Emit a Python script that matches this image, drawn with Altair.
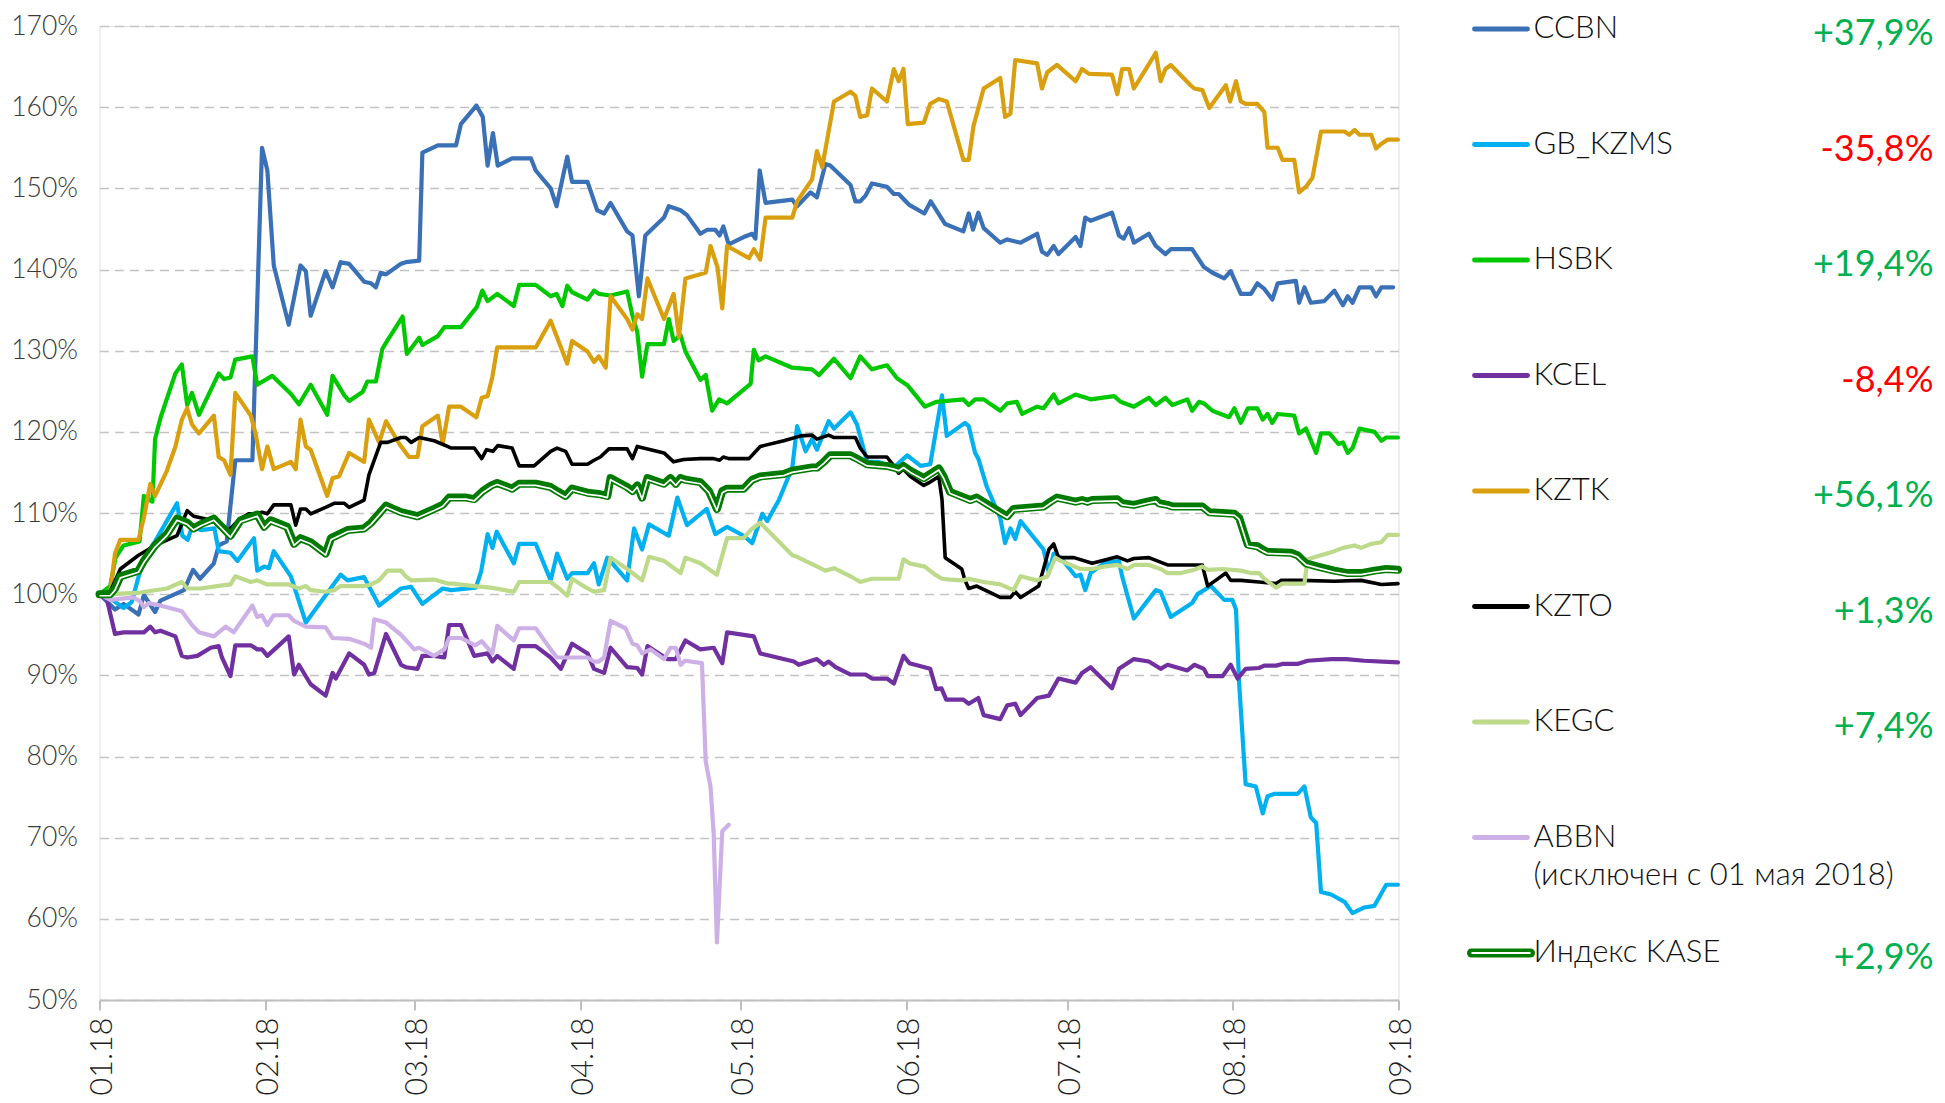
import altair as alt
import pandas as pd

# ---------------- data (day = days since 01.01.2018, value = % of 01.01.2018 level) ----------------
SERIES = ["CCBN", "GB_KZMS", "HSBK", "KCEL", "KZTK", "KZTO", "KEGC", "ABBN", "Индекс KASE"]
COLORS = ["#3A70B6", "#00B0F0", "#00C800", "#7030A0", "#DA9F0E", "#000000", "#BDD98A", "#CDB0E6", "#007A00"]
CHANGES = ["+37,9%", "-35,8%", "+19,4%", "-8,4%", "+56,1%", "+1,3%", "+7,4%", "", "+2,9%"]
CHANGE_COLORS = ["#00B050", "#FF0000", "#00B050", "#FF0000", "#00B050", "#00B050", "#00B050", "#00B050", "#00B050"]
NOTES = ["", "", "", "", "", "", "", "(исключен с 01 мая 2018)", ""]

MONTH_DAYS = [0, 31, 59, 90, 120, 151, 181, 212, 243]
MONTH_LABELS = ["01.18", "02.18", "03.18", "04.18", "05.18", "06.18", "07.18", "08.18", "09.18"]
Y_TICKS = [50, 60, 70, 80, 90, 100, 110, 120, 130, 140, 150, 160, 170]

CCBN = [(0, 100), (2.9, 98.1), (4.5, 98.8), (7.3, 97.5), (8.3, 99.9), (10.4, 97.8), (11.4, 99.2),
        (15.8, 100.5), (17.5, 103.0), (18.8, 101.9), (21.4, 103.8), (22.3, 106.0), (23.8, 106.5),
        (25.4, 116.5), (28.6, 116.5), (30.4, 155.0), (31.4, 152.2), (32.6, 140.5), (35.4, 133.2),
        (37.6, 140.5), (38.6, 139.8), (39.5, 134.3), (42.3, 139.8), (43.6, 137.8), (45.1, 140.9),
        (46.7, 140.7), (49.5, 138.5), (50.8, 138.3), (51.7, 137.8), (52.6, 139.6), (53.6, 139.4),
        (56.4, 140.7), (57.3, 140.9), (59.8, 141.1), (60.4, 154.4), (63.3, 155.3), (66.7, 155.3),
        (67.6, 157.9), (70.5, 160.2), (71.7, 158.8), (72.6, 152.8), (73.6, 156.8), (74.5, 152.8),
        (77.2, 153.7), (80.7, 153.7), (81.6, 152.2), (84.4, 150.0), (85.5, 147.8), (87.5, 153.9),
        (88.4, 150.8), (91.3, 150.8), (93.1, 147.3), (94.4, 146.9), (95.6, 148.2), (98.7, 144.7),
        (99.7, 144.2), (100.9, 136.7), (102.1, 144.2), (105.6, 146.4), (106.5, 147.8), (108.7, 147.3),
        (109.9, 146.7), (112.4, 144.4), (113.7, 144.9), (115.2, 144.9), (116.0, 144.2), (116.7, 145.3),
        (117.7, 143.1), (120.5, 144.0), (122.1, 144.4), (122.7, 143.8), (123.5, 152.2), (124.6, 148.2),
        (129.6, 148.6), (130.5, 147.8), (133.0, 149.5), (134.2, 148.9), (135.8, 153.0), (136.7, 152.8),
        (140.5, 150.4), (141.4, 148.4), (142.3, 148.4), (143.3, 149.1), (144.5, 150.6), (147.3, 150.2),
        (148.6, 149.3), (149.5, 149.3), (151.4, 148.0), (154.3, 146.9), (155.5, 148.4), (158.2, 145.6),
        (161.6, 144.7), (162.6, 146.9), (163.4, 144.9), (164.4, 147.0), (165.4, 145.1), (168.5, 143.3),
        (169.8, 143.7), (172.3, 143.3), (175.4, 144.4), (176.3, 142.2), (177.3, 141.8), (178.5, 142.9),
        (179.4, 141.9), (182.6, 144.0), (183.5, 142.9), (184.4, 146.4), (185.4, 146.0), (189.4, 147.0),
        (190.7, 144.2), (191.6, 143.8), (192.6, 145.1), (193.5, 143.3), (196.3, 144.4), (197.6, 142.9),
        (199.4, 141.9), (200.4, 142.5), (204.4, 142.5), (206.6, 140.3), (208.2, 139.6), (210.4, 138.9),
        (211.6, 139.8), (213.5, 137.0), (215.4, 137.0), (216.6, 138.3), (217.9, 137.6), (219.4, 136.3),
        (220.4, 138.3), (223.8, 138.6), (224.4, 135.9), (225.4, 137.8), (226.6, 135.9), (229.1, 136.1),
        (231.0, 137.4), (232.6, 135.6), (233.5, 136.7), (234.4, 135.9), (235.7, 137.8), (237.9, 137.8),
        (238.8, 136.7), (239.8, 137.8), (242.0, 137.8)]

GB_KZMS = [(0, 100), (2.6, 99.2), (4.5, 98.3), (6.0, 99.0), (8.3, 104.5), (10.4, 106.5), (14.5, 111.2),
           (15.5, 107.2), (16.5, 106.7), (17.3, 108.3), (19.0, 107.9), (21.5, 108.1), (22.3, 105.3),
           (24.5, 105.1), (25.8, 104.1), (28.9, 106.9), (29.5, 102.9), (30.8, 103.4), (31.7, 103.2),
           (32.6, 105.3), (35.8, 102.2), (38.6, 96.5), (45.1, 102.4), (46.4, 101.7), (49.5, 102.1),
           (52.3, 98.6), (56.4, 100.7), (58.3, 100.9), (60.4, 98.8), (64.2, 100.7), (65.8, 100.5),
           (70.4, 100.8), (71.4, 102.8), (72.6, 107.4), (73.5, 105.7), (74.3, 107.7), (77.5, 103.8),
           (78.5, 106.2), (81.6, 106.2), (84.4, 101.7), (85.6, 105.0), (87.5, 101.9), (88.4, 102.6),
           (91.3, 102.6), (92.5, 103.8), (93.4, 101.2), (95.0, 104.5), (98.7, 101.7), (100.0, 108.1),
           (101.5, 105.5), (102.8, 108.6), (106.5, 107.2), (108.1, 111.9), (109.9, 108.5), (113.6, 110.5),
           (115.2, 107.4), (117.4, 108.3), (120.5, 107.2), (122.1, 106.3), (124.0, 109.9), (124.9, 109.0),
           (127.1, 111.6), (129.6, 115.6), (130.5, 120.7), (132.1, 117.6), (133.3, 119.1), (134.2, 117.8),
           (136.4, 121.3), (137.4, 120.4), (140.5, 122.4), (141.7, 120.9), (143.6, 116.3), (145.8, 116.3),
           (148.6, 115.6), (151.1, 117.1), (153.6, 115.8), (155.4, 116.0), (157.6, 124.5), (158.5, 119.5),
           (161.9, 121.1), (162.6, 120.7), (163.8, 117.4), (164.4, 116.7), (166.0, 113.2), (168.5, 109.4),
           (169.4, 106.3), (170.4, 108.1), (171.3, 106.8), (172.3, 109.0), (176.6, 105.5), (177.6, 102.6),
           (178.5, 105.0), (179.8, 104.5), (182.6, 102.2), (183.5, 102.4), (184.4, 100.5), (185.4, 102.6),
           (187.9, 103.8), (190.7, 104.1), (191.3, 102.2), (192.3, 99.8), (193.5, 97.0), (197.6, 100.5),
           (198.5, 100.3), (200.4, 97.2), (204.4, 98.9), (205.4, 100.0), (207.9, 101.0), (210.4, 99.3),
           (211.9, 99.3), (212.6, 98.1), (213.2, 88.9), (214.4, 76.6), (216.3, 76.3), (217.6, 73.0),
           (218.5, 75.1), (219.8, 75.4), (224.1, 75.4), (225.4, 76.3), (226.6, 72.5), (227.6, 71.8),
           (228.5, 63.3), (230.4, 63.0), (232.9, 62.1), (234.4, 60.7), (236.6, 61.4), (238.5, 61.6),
           (240.7, 64.2), (242.9, 64.2)]

HSBK = [(0, 100), (2.0, 101.0), (3.0, 104.5), (4.5, 106.0), (7.5, 106.5), (8.3, 112.1), (9.9, 111.4),
        (10.4, 119.1), (11.4, 121.7), (14.2, 127.2), (15.4, 128.3), (16.4, 123.3), (17.3, 124.8),
        (18.6, 122.1), (22.3, 127.2), (23.3, 126.5), (24.5, 126.7), (25.4, 128.9), (28.6, 129.3),
        (29.5, 125.8), (32.3, 126.9), (35.8, 124.7), (37.3, 123.4), (39.5, 125.8), (42.6, 122.1),
        (43.6, 126.9), (45.8, 124.5), (46.7, 123.8), (49.2, 124.9), (50.1, 126.2), (51.7, 126.2),
        (52.9, 130.2), (53.9, 131.3), (56.7, 134.2), (57.5, 129.6), (59.8, 131.6), (60.4, 130.7),
        (63.3, 131.8), (64.5, 132.9), (67.6, 132.9), (70.6, 135.4), (71.6, 137.4), (72.6, 136.1),
        (74.4, 137.0), (77.5, 135.5), (78.5, 138.1), (81.6, 138.1), (84.4, 136.7), (85.5, 137.0),
        (86.6, 135.5), (87.5, 138.0), (88.4, 137.2), (91.3, 136.3), (92.5, 137.4), (93.4, 137.0),
        (95.6, 136.8), (98.7, 137.3), (99.7, 134.3), (100.6, 132.3), (101.5, 126.8), (102.5, 130.8),
        (105.6, 130.8), (106.5, 133.9), (107.4, 131.2), (108.7, 131.9), (109.6, 129.9), (112.4, 126.4),
        (113.4, 127.0), (114.6, 122.6), (115.9, 124.0), (117.4, 123.5), (121.8, 125.9), (122.4, 130.1),
        (123.3, 128.8), (124.6, 129.3), (129.6, 127.9), (133.3, 127.7), (134.6, 127.0), (137.4, 129.0),
        (140.5, 126.6), (142.3, 129.3), (144.5, 127.7), (147.3, 128.2), (149.2, 126.6), (151.2, 125.7),
        (154.4, 123.1), (156.6, 123.7), (161.6, 124.0), (162.6, 123.3), (163.8, 124.0), (165.4, 124.0),
        (168.5, 122.6), (169.8, 123.5), (171.6, 123.7), (172.6, 122.2), (175.4, 123.1), (176.6, 122.9),
        (178.5, 124.6), (179.4, 123.5), (182.6, 124.6), (185.4, 124.0), (189.8, 124.4), (191.0, 123.7),
        (193.5, 123.1), (196.3, 124.2), (197.6, 123.3), (199.4, 124.2), (200.7, 123.3), (203.5, 124.0),
        (204.4, 122.6), (205.7, 123.7), (206.6, 123.5), (208.2, 122.6), (211.3, 121.8), (212.3, 122.9),
        (213.5, 121.1), (214.8, 122.9), (216.6, 122.9), (217.6, 121.5), (218.5, 122.2), (219.4, 121.1),
        (220.4, 122.2), (223.5, 122.0), (224.4, 119.8), (225.7, 120.4), (227.6, 117.4), (228.5, 119.8),
        (230.1, 119.8), (231.8, 118.5), (232.6, 118.7), (233.5, 117.4), (234.4, 118.0), (235.7, 120.4),
        (238.5, 120.0), (239.8, 118.9), (240.7, 119.3), (242.9, 119.3)]

KCEL = [(0, 100), (1.4, 99.3), (2.9, 95.1), (4.5, 95.3), (8.3, 95.3), (9.5, 96.0), (10.4, 95.3),
        (11.4, 95.5), (14.2, 94.8), (15.4, 92.4), (16.4, 92.2), (18.3, 92.4), (20.8, 93.4), (22.3, 93.6),
        (22.9, 92.2), (24.5, 89.9), (25.4, 93.7), (28.3, 93.7), (29.5, 93.2), (30.4, 93.2), (31.4, 92.4),
        (35.4, 94.8), (36.4, 90.1), (37.3, 91.3), (39.5, 88.9), (42.3, 87.5), (43.6, 90.3), (44.2, 89.6),
        (46.7, 92.7), (49.5, 91.3), (50.4, 90.1), (51.4, 90.3), (53.6, 95.1), (56.4, 91.3), (57.3, 91.0),
        (59.5, 90.8), (60.4, 92.4), (62.6, 92.4), (64.5, 92.2), (65.4, 96.2), (67.6, 96.2), (70.1, 92.4),
        (72.6, 92.7), (73.5, 91.7), (74.4, 92.4), (77.5, 90.8), (78.5, 93.6), (81.6, 93.6), (84.4, 92.2),
        (86.3, 90.8), (88.4, 93.9), (91.3, 92.7), (92.5, 90.8), (94.4, 90.3), (95.6, 93.4), (98.7, 91.0),
        (100.6, 90.9), (101.5, 90.1), (102.5, 93.6), (106.2, 92.0), (107.8, 92.0), (109.6, 94.3),
        (112.4, 93.2), (114.9, 93.4), (116.5, 91.5), (117.4, 95.3), (122.4, 94.8), (123.6, 92.7),
        (129.9, 91.7), (130.8, 91.3), (134.2, 92.0), (135.5, 91.3), (136.4, 91.7), (137.7, 91.0),
        (140.5, 90.1), (143.3, 90.1), (144.5, 89.6), (147.3, 89.6), (148.6, 89.0), (150.4, 92.4),
        (151.5, 91.5), (155.4, 90.8), (156.5, 88.3), (157.5, 88.4), (158.4, 87.0), (161.6, 87.0),
        (162.6, 86.5), (164.4, 87.2), (165.4, 85.1), (168.5, 84.6), (169.8, 86.3), (171.3, 86.5),
        (172.3, 85.1), (175.4, 87.2), (177.6, 87.5), (179.4, 89.6), (182.6, 89.1), (183.8, 90.3),
        (185.4, 91.0), (189.4, 88.4), (190.7, 90.8), (193.5, 92.0), (196.3, 91.7), (198.5, 90.8),
        (199.8, 91.3), (203.5, 90.6), (204.8, 91.3), (206.6, 90.8), (207.3, 89.9), (210.1, 89.9),
        (211.6, 91.3), (212.9, 89.6), (214.4, 90.8), (216.9, 90.9), (217.9, 91.2), (220.1, 91.2),
        (221.3, 91.4), (224.1, 91.4), (226.0, 91.8), (230.4, 92.0), (233.2, 92.0), (236.6, 91.8),
        (242.9, 91.6)]

KZTK = [(0, 100), (2.0, 100.3), (2.9, 105.0), (3.9, 106.7), (7.3, 106.7), (8.3, 109.4), (9.5, 113.6),
        (10.4, 112.1), (12.6, 115.2), (14.2, 118.2), (15.4, 121.5), (16.4, 122.9), (17.3, 120.9),
        (18.6, 119.8), (21.4, 122.0), (22.3, 116.9), (23.3, 116.5), (24.5, 114.7), (25.4, 124.8),
        (28.3, 122.0), (29.2, 119.8), (30.4, 115.4), (31.4, 118.2), (32.6, 115.4), (35.8, 116.3),
        (36.7, 115.4), (37.6, 121.5), (38.6, 118.2), (39.5, 117.8), (42.6, 112.1), (43.6, 114.3),
        (44.8, 114.5), (46.7, 117.4), (49.5, 116.3), (50.4, 121.5), (52.3, 118.7), (53.6, 121.3),
        (56.1, 118.5), (57.9, 116.9), (59.5, 116.9), (60.4, 120.7), (63.3, 122.0), (64.2, 118.5),
        (65.4, 123.1), (67.6, 123.1), (70.5, 121.8), (71.5, 124.2), (72.6, 124.4), (73.5, 126.8),
        (74.4, 130.4), (81.6, 130.4), (84.4, 133.7), (87.5, 128.4), (88.4, 131.2), (91.3, 129.9),
        (92.5, 128.6), (93.4, 129.3), (94.7, 127.9), (95.6, 136.7), (98.7, 133.9), (99.7, 132.6),
        (100.6, 134.5), (101.5, 133.9), (102.5, 138.9), (105.6, 133.9), (107.4, 137.0), (108.4, 131.7),
        (109.6, 138.9), (113.4, 139.6), (114.3, 142.9), (115.6, 140.3), (116.5, 135.2), (117.4, 142.9),
        (121.5, 141.4), (122.4, 142.5), (123.6, 141.2), (124.6, 146.4), (129.6, 146.4), (130.5, 148.4),
        (133.3, 151.1), (134.2, 154.6), (135.2, 152.6), (137.4, 160.7), (140.5, 161.9), (141.4, 161.4),
        (142.3, 158.8), (143.6, 159.0), (144.5, 162.3), (147.3, 160.7), (148.6, 164.7), (149.5, 163.2),
        (150.4, 164.7), (151.2, 157.9), (154.2, 158.1), (155.4, 160.4), (157.0, 161.0), (158.5, 160.7),
        (161.6, 153.5), (162.6, 153.5), (163.5, 157.7), (165.4, 162.3), (168.5, 163.6), (169.4, 158.8),
        (170.4, 159.2), (171.3, 165.8), (175.4, 165.4), (176.3, 162.3), (177.3, 164.3), (179.1, 165.2),
        (182.6, 163.2), (183.8, 164.7), (185.1, 164.1), (189.4, 164.0), (190.4, 161.6), (191.3, 164.7),
        (192.6, 164.7), (193.5, 162.3), (197.6, 166.7), (198.5, 163.2), (199.4, 164.7), (200.4, 165.2),
        (204.1, 162.7), (204.8, 162.3), (206.3, 162.1), (207.6, 159.9), (210.7, 162.7), (211.5, 160.7),
        (212.6, 163.2), (213.5, 160.7), (214.4, 160.4), (216.6, 160.4), (217.9, 159.4), (218.5, 155.0),
        (220.4, 155.0), (221.3, 153.5), (223.5, 153.5), (224.4, 149.5), (225.7, 150.2), (226.9, 151.3),
        (228.5, 157.0), (232.9, 157.0), (233.8, 156.6), (234.8, 157.2), (235.7, 156.6), (237.9, 156.6),
        (238.8, 154.9), (239.8, 155.5), (241.0, 156.0), (242.9, 156.0)]

KZTO = [(0, 100), (2.0, 100.3), (3.9, 103.1), (7.3, 104.8), (10.4, 106.0), (14.5, 107.2), (16.4, 110.3),
        (17.6, 109.6), (18.9, 109.4), (21.4, 109.0), (22.3, 108.3), (23.9, 107.7), (25.1, 108.5),
        (26.1, 109.2), (27.9, 109.9), (29.5, 109.9), (30.4, 110.1), (31.4, 109.9), (32.6, 111.0),
        (35.8, 111.0), (36.7, 108.5), (37.6, 110.5), (38.6, 110.5), (39.5, 109.9), (42.3, 110.7),
        (43.9, 111.2), (45.8, 111.2), (46.7, 110.7), (49.5, 111.6), (50.4, 114.7), (52.6, 118.7),
        (53.9, 118.7), (56.4, 119.3), (57.3, 119.3), (58.3, 118.7), (59.8, 119.3), (62.6, 118.9),
        (65.1, 118.2), (65.8, 118.0), (70.1, 118.0), (71.5, 116.7), (72.4, 117.8), (73.6, 117.6),
        (74.5, 118.3), (77.2, 118.0), (78.5, 115.8), (81.3, 115.8), (84.4, 117.6), (85.6, 118.0),
        (87.2, 117.6), (88.4, 116.0), (91.3, 116.0), (92.5, 116.5), (93.7, 116.9), (95.3, 117.9),
        (98.7, 117.9), (99.7, 116.7), (100.6, 118.2), (103.1, 117.8), (105.6, 117.4), (107.4, 116.3),
        (109.3, 116.6), (112.4, 116.7), (114.9, 116.7), (116.0, 116.5), (116.7, 116.9), (117.7, 116.7),
        (121.5, 116.7), (123.6, 118.2), (128.0, 118.9), (131.2, 119.5), (133.3, 119.6), (134.2, 119.1),
        (136.4, 119.6), (137.4, 119.3), (141.4, 119.3), (142.3, 118.0), (143.6, 116.9), (147.3, 116.9),
        (148.6, 115.8), (149.5, 114.9), (150.4, 115.4), (151.7, 114.5), (154.2, 113.4), (155.1, 113.7),
        (157.0, 114.5), (157.6, 111.7), (158.2, 104.5), (161.3, 103.1), (161.9, 101.7), (162.6, 100.7),
        (164.1, 101.0), (168.5, 99.6), (170.4, 99.6), (171.3, 100.3), (172.3, 99.6), (175.7, 101.0),
        (177.6, 105.5), (178.5, 106.2), (179.4, 104.5), (182.3, 104.5), (185.7, 103.8), (190.4, 104.6),
        (192.3, 104.1), (193.5, 104.4), (196.3, 104.5), (199.8, 103.6), (206.3, 103.6), (207.3, 101.0),
        (208.8, 101.7), (210.7, 102.6), (211.6, 101.7), (213.5, 101.7), (216.9, 101.5), (220.1, 101.3),
        (221.0, 101.7), (224.8, 101.7), (231.0, 101.6), (236.0, 101.7), (239.8, 101.2), (242.9, 101.3)]

KEGC = [(0, 100), (2.0, 100.0), (7.6, 100.2), (12.6, 100.7), (15.4, 101.5), (16.4, 100.7), (18.9, 100.7),
        (22.0, 101.0), (24.5, 101.2), (25.4, 102.2), (28.3, 101.5), (29.5, 101.7), (31.4, 101.2),
        (35.4, 101.2), (37.3, 100.7), (38.6, 101.0), (39.5, 100.5), (42.3, 100.3), (43.9, 100.5),
        (45.1, 101.0), (49.5, 101.0), (50.8, 101.2), (52.3, 101.7), (53.9, 102.9), (56.4, 102.9),
        (57.3, 102.2), (58.3, 101.7), (62.6, 101.8), (65.1, 101.3), (66.1, 101.3), (70.1, 101.0),
        (73.2, 100.8), (77.5, 100.3), (78.5, 101.5), (84.4, 101.5), (86.0, 100.7), (87.5, 99.8),
        (88.4, 101.9), (91.3, 100.7), (92.5, 100.3), (94.4, 100.5), (95.6, 104.5), (98.7, 103.1),
        (101.5, 101.7), (102.8, 104.6), (105.6, 104.1), (108.7, 102.6), (109.6, 104.5), (112.4, 103.8),
        (115.5, 102.4), (117.4, 106.9), (120.5, 106.9), (121.8, 107.9), (123.6, 108.8), (129.6, 104.8),
        (130.5, 104.6), (133.0, 103.8), (135.8, 102.9), (137.4, 103.2), (140.5, 102.2), (142.3, 101.5),
        (144.5, 101.9), (149.5, 101.9), (150.4, 104.3), (151.5, 103.8), (154.4, 103.4), (156.3, 102.4),
        (157.6, 101.9), (159.1, 101.8), (161.6, 101.7), (162.6, 101.9), (165.4, 101.5), (168.5, 101.2),
        (171.0, 100.5), (172.3, 102.2), (175.4, 101.7), (177.3, 102.2), (178.8, 104.5), (179.8, 104.1),
        (183.5, 103.1), (185.7, 103.1), (187.9, 103.4), (190.4, 103.6), (192.3, 103.1), (193.5, 103.6),
        (196.3, 103.6), (198.5, 103.1), (199.8, 102.6), (202.3, 102.6), (204.8, 103.0), (206.3, 103.4),
        (207.3, 103.0), (210.1, 103.1), (213.5, 102.9), (215.4, 102.6), (216.9, 102.6), (217.9, 101.9),
        (220.1, 100.8), (221.3, 101.3), (225.4, 101.3), (226.0, 104.3), (228.5, 104.8), (231.0, 105.3),
        (232.6, 105.7), (234.8, 106.0), (236.0, 105.7), (237.9, 106.2), (239.8, 106.4), (241.0, 107.3),
        (242.9, 107.3)]

ABBN = [(0, 100), (2.0, 99.3), (6.4, 99.6), (7.6, 99.1), (8.3, 98.4), (9.2, 98.9), (11.4, 98.6),
        (14.2, 98.1), (15.4, 97.9), (17.3, 96.2), (18.6, 95.3), (21.4, 94.8), (23.6, 96.0), (25.1, 95.3),
        (28.6, 98.6), (29.5, 97.2), (30.4, 97.4), (31.4, 96.2), (32.6, 97.4), (35.4, 97.4), (36.4, 96.7),
        (38.6, 96.0), (42.3, 95.9), (43.6, 94.6), (46.7, 94.5), (49.5, 93.9), (50.8, 93.4), (51.4, 96.9),
        (53.6, 96.5), (56.4, 95.0), (58.9, 93.2), (59.8, 93.4), (62.6, 92.4), (64.5, 93.2), (65.4, 94.6),
        (67.6, 94.6), (70.3, 93.7), (71.5, 94.2), (73.5, 92.7), (74.4, 96.1), (77.5, 94.3), (78.5, 95.8),
        (81.6, 95.8), (84.4, 93.2), (85.6, 92.2), (91.3, 92.2), (92.5, 91.7), (93.4, 91.7), (94.4, 92.2),
        (95.6, 96.7), (98.4, 95.8), (99.7, 93.9), (100.6, 93.7), (101.5, 92.7), (103.1, 93.2),
        (105.6, 92.0), (106.8, 93.4), (107.8, 93.4), (108.7, 91.3), (109.6, 91.8), (112.7, 91.5),
        (113.4, 79.4), (114.3, 76.3), (114.9, 70.4), (115.5, 57.1), (116.5, 70.8), (117.7, 71.6)]

KASE = [(0, 100), (2.0, 100.0), (2.9, 100.7), (3.9, 102.2), (7.3, 102.9), (8.3, 104.1), (10.4, 106.0),
        (12.6, 107.4), (14.5, 109.3), (16.4, 108.8), (17.6, 108.1), (18.9, 108.6), (21.4, 109.3),
        (24.5, 107.2), (26.4, 109.1), (29.5, 109.8), (30.8, 108.3), (32.0, 109.1), (35.1, 108.3),
        (36.4, 106.2), (37.6, 106.9), (39.5, 106.4), (42.3, 105.0), (43.3, 106.9), (46.4, 107.9),
        (49.5, 108.1), (50.8, 108.8), (53.6, 110.9), (56.4, 110.1), (59.5, 109.6), (62.6, 110.5),
        (64.2, 111.0), (65.4, 111.9), (68.6, 111.9), (70.1, 111.7), (71.7, 112.7), (73.3, 113.4),
        (74.4, 113.7), (77.2, 113.0), (78.5, 113.6), (81.6, 113.6), (84.4, 113.2), (85.6, 112.7),
        (87.2, 112.1), (88.4, 113.0), (91.3, 112.5), (93.7, 112.3), (95.0, 112.1), (95.6, 114.3),
        (98.7, 113.2), (99.7, 112.7), (100.6, 113.4), (101.5, 111.9), (102.5, 114.3), (105.6, 113.6),
        (106.8, 114.3), (107.8, 113.6), (108.7, 114.3), (109.6, 114.1), (112.4, 113.8), (114.0, 112.7),
        (115.5, 110.5), (116.5, 112.7), (117.4, 113.0), (120.5, 113.0), (122.1, 114.1), (123.6, 114.5),
        (128.0, 114.8), (129.6, 115.2), (133.3, 115.6), (134.2, 115.6), (135.5, 116.3), (136.7, 117.1),
        (140.5, 117.1), (141.4, 116.8), (143.6, 116.0), (147.3, 115.8), (148.6, 115.6), (149.5, 115.4),
        (150.4, 115.8), (151.7, 115.2), (154.2, 114.3), (155.1, 114.7), (157.0, 115.5), (157.9, 114.5),
        (159.1, 112.6), (162.9, 111.6), (164.1, 111.9), (168.5, 110.1), (169.8, 109.6), (171.0, 110.5),
        (176.6, 110.8), (177.9, 111.4), (179.1, 111.9), (182.6, 111.4), (183.8, 111.6), (184.8, 111.4),
        (185.7, 111.6), (190.4, 111.7), (191.3, 111.2), (193.5, 111.0), (196.0, 111.4), (197.6, 111.6),
        (198.2, 111.2), (199.8, 111.0), (200.7, 110.8), (206.3, 110.8), (207.6, 110.1), (212.3, 109.9),
        (213.2, 109.4), (214.8, 106.1), (216.6, 105.9), (217.6, 105.5), (218.5, 105.2), (222.9, 105.1),
        (224.1, 104.8), (225.7, 103.8), (227.9, 103.4), (231.0, 102.9), (233.5, 102.6), (236.0, 102.6),
        (238.5, 102.9), (240.7, 103.1), (242.9, 103.0)]

SERIES_DATA = [CCBN, GB_KZMS, HSBK, KCEL, KZTK, KZTO, KEGC, ABBN, KASE]
LINE_WIDTHS = [4.2, 4.2, 4.2, 4.2, 4.2, 3.6, 4.2, 4.2, 8.0]

# ---------------- build tables ----------------
rows = []
for name, pts in zip(SERIES, SERIES_DATA):
    for i, (d, v) in enumerate(pts):
        rows.append({"series": name, "day": d, "value": v, "i": i})
long_df = pd.DataFrame(rows)

FONT = "Lato"
label_expr_x = "[" + ",".join("'%s'" % s for s in MONTH_LABELS) + "][indexof([" + \
    ",".join(str(d) for d in MONTH_DAYS) + "], datum.value)]"

x_enc = alt.X("day:Q",
              scale=alt.Scale(domain=[MONTH_DAYS[0], MONTH_DAYS[-1]], nice=False, zero=False),
              axis=alt.Axis(values=MONTH_DAYS, labelExpr=label_expr_x, title=None, grid=False,
                            labelAngle=270, labelFontSize=30.5, labelFont=FONT, labelFontWeight=300,
                            labelColor="#1E1E1E", labelPadding=7, labelOffset=3, tickSize=10,
                            tickWidth=2, tickColor="#BFBFBF", domainColor="#BFBFBF", domainWidth=2,
                            labelOverlap=False, labelFlush=False, labelBound=False))
y_enc = alt.Y("value:Q",
              scale=alt.Scale(domain=[Y_TICKS[0], Y_TICKS[-1]], nice=False, zero=False),
              axis=alt.Axis(values=Y_TICKS, labelExpr="datum.value + '%'", title=None,
                            domain=False, ticks=False, grid=True, gridColor="#C3C3C3",
                            gridDash=[9, 6], gridWidth=1.6, labelFontSize=26.5, labelFont=FONT,
                            labelFontWeight=300, labelColor="#3A3A3A", labelPadding=22))

base = alt.Chart(long_df).encode(x=x_enc, y=y_enc, order="i:Q")
layers = []
for name, color, w in zip(SERIES, COLORS, LINE_WIDTHS):
    layers.append(base.transform_filter(alt.datum.series == name)
                  .mark_line(color=color, strokeWidth=w, strokeJoin="round", strokeCap="round"))
# inner white stripe of the KASE index line
layers.append(base.transform_filter(alt.datum.series == SERIES[-1])
              .mark_line(color="white", strokeWidth=1.7, strokeJoin="round", yOffset=1.6))
main = alt.layer(*layers)

# ---------------- custom legend ----------------
leg_df = pd.DataFrame({"row": list(range(len(SERIES))), "name": SERIES, "color": COLORS,
                       "change": CHANGES, "change_color": CHANGE_COLORS, "note": NOTES,
                       "kase": [n == SERIES[-1] for n in SERIES]})
leg_y = alt.Y("row:Q", scale=alt.Scale(domain=[0, len(SERIES) - 1], range=[3, 927]), axis=None)
leg_base = alt.Chart(leg_df).encode(y=leg_y)

sym = leg_base.transform_filter("!datum.kase").mark_rule(strokeWidth=4.8, strokeCap="round").encode(
    x=alt.value(1375), x2=alt.value(1428), color=alt.Color("color:N", scale=None))
sym_k = leg_base.transform_filter("datum.kase").mark_rule(strokeWidth=9, strokeCap="round").encode(
    x=alt.value(1372), x2=alt.value(1431), color=alt.Color("color:N", scale=None))
sym_k2 = leg_base.transform_filter("datum.kase").mark_rule(strokeWidth=2, color="white").encode(
    x=alt.value(1372), x2=alt.value(1431))
names = leg_base.mark_text(align="left", baseline="middle", font=FONT, fontSize=31,
                           fontWeight=300, color="#111111").encode(x=alt.value(1434), text="name:N")
notes = leg_base.mark_text(align="left", baseline="middle", font=FONT, fontSize=31, dy=38,
                           fontWeight=300, color="#111111").encode(x=alt.value(1434), text="note:N")
changes = leg_base.mark_text(align="right", baseline="middle", font=FONT, fontSize=36, dy=5).encode(
    x=alt.value(1834), text="change:N", color=alt.Color("change_color:N", scale=None))
legend = alt.layer(sym, sym_k, sym_k2, names, notes, changes)

chart = (alt.layer(main, legend)
         .resolve_scale(y="independent")
         .properties(width=1299, height=974,
                     autosize=alt.AutoSizeParams(type="none"),
                     padding={"left": 91.5, "top": 18, "right": 538, "bottom": 95})
         .configure_view(stroke=None)
         .configure(background="white"))

chart.save("out.html", embed_options={"renderer": "svg", "actions": False})
